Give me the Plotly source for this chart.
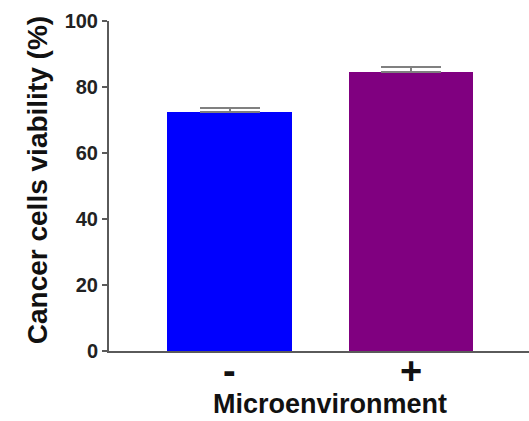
import plotly.graph_objects as go

# Cancer cell viability with / without microenvironment (mean + upper SEM)
categories = ["-", "+"]
viability = [72.4, 84.6]
sem = [1.3, 1.6]
bar_colors = ["#0000FF", "#800080"]
y_ticks = [0, 20, 40, 60, 80, 100]

FONT = "Liberation Sans, Arial, sans-serif"
AXIS_GRAY = "#5a5a5a"

x_pos = list(range(len(categories)))

fig = go.Figure()
fig.add_trace(go.Bar(
    x=x_pos,
    y=viability,
    width=0.69,
    marker=dict(color=bar_colors, line=dict(width=0)),
    error_y=dict(
        type="data",
        symmetric=False,
        array=sem,
        arrayminus=[0] * len(sem),
        color="#808080",
        thickness=2,
        width=30,
    ),
    showlegend=False,
))

# category labels placed under each bar, in data x coordinates
category_labels = [
    dict(
        text=cat,
        xref="x", yref="paper",
        x=xp, y=-0.062,
        xanchor="center", yanchor="middle",
        height=26,
        valign="middle",
        showarrow=False,
        font=dict(family=FONT, size=38, color="#111", weight="bold"),
    )
    for cat, xp in zip(categories, x_pos)
]

fig.update_layout(
    width=529,
    height=421,
    margin=dict(l=109, r=0, t=21, b=70),
    paper_bgcolor="white",
    plot_bgcolor="white",
    bargap=0,
    xaxis=dict(
        range=[-0.668, 1.652],
        tickvals=x_pos,
        showticklabels=False,
        ticks="",
        showline=True,
        linecolor=AXIS_GRAY,
        linewidth=2,
        showgrid=False,
        zeroline=False,
    ),
    yaxis=dict(
        range=[0, 100],
        tickvals=y_ticks,
        ticks="outside",
        ticklen=5,
        tickwidth=2,
        tickcolor=AXIS_GRAY,
        showline=True,
        linecolor=AXIS_GRAY,
        linewidth=2,
        showgrid=False,
        zeroline=False,
        tickfont=dict(family=FONT, size=20, color="#222", weight="bold"),
    ),
    annotations=category_labels + [
        dict(
            text="Cancer cells viability (%)",
            textangle=-90,
            xref="paper", yref="paper",
            x=-0.171, y=0.518,
            xanchor="center", yanchor="middle",
            showarrow=False,
            font=dict(family=FONT, size=28, color="#111", weight="bold"),
        ),
        dict(
            text="Microenvironment",
            xref="paper", yref="paper",
            x=0.526, y=-0.1606,
            xanchor="center", yanchor="middle",
            showarrow=False,
            font=dict(family=FONT, size=27, color="#111", weight="bold"),
        ),
    ],
)

fig.write_html("out.html")
